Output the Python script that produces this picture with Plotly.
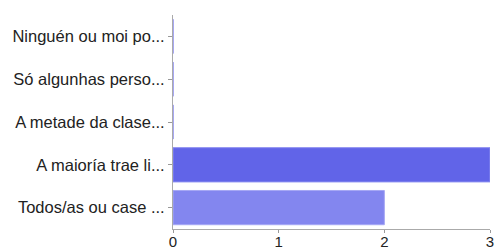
import plotly.graph_objects as go

categories = ["Ninguén ou moi po...", "Só algunhas perso...", "A metade da clase...",
              "A maioría trae li...", "Todos/as ou case ..."]
values = [0, 0, 0, 3, 2]
colors = ["#6164e8", "#6164e8", "#6164e8", "#6164e8", "#8386ef"]
border = ["#8a8cf0", "#8a8cf0", "#8a8cf0", "#8a8cf0", "#a5a7f4"]
x_ticks = [0, 1, 2, 3]

fig = go.Figure(go.Bar(
    x=values, y=categories, orientation="h",
    marker=dict(color=colors, line=dict(color=border, width=1)),
    width=0.8,
))

fig.update_layout(
    width=495, height=251,
    margin=dict(l=173, r=5, t=15, b=22),
    paper_bgcolor="white", plot_bgcolor="white",
    font=dict(family="Liberation Sans, Arial, sans-serif", size=16, color="#222222"),
    showlegend=False,
)
fig.update_xaxes(
    range=[0, 3], tickvals=x_ticks, ticks="outside", ticklen=3, tickcolor="#999999",
    showgrid=False, zeroline=False, showline=True, linecolor="#aaaaaa", linewidth=1,
    tickfont=dict(size=15, color="#222222"), automargin=False, ticklabelstandoff=-4,
)
fig.update_yaxes(
    categoryorder="array", categoryarray=categories[::-1],
    ticks="outside", ticklen=4, tickcolor="#999999",
    showgrid=False, zeroline=False, showline=True, linecolor="#aaaaaa", linewidth=1,
    tickfont=dict(size=16.5, color="#222222"), automargin=False,
)

fig.write_html("out.html", config={"displayModeBar": False},
               post_script="document.body.style.margin='0';document.body.style.overflow='hidden';")
